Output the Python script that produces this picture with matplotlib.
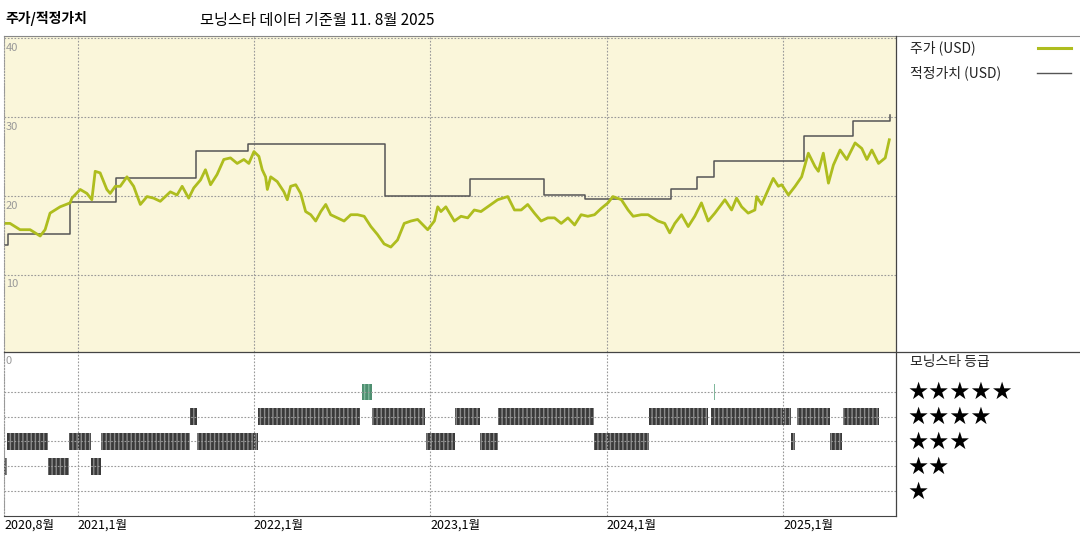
import matplotlib
matplotlib.use("Agg")
import matplotlib.pyplot as plt
from matplotlib.lines import Line2D

plt.rcParams['font.family'] = ['Noto Sans CJK KR', 'DejaVu Sans']

# price (decimal year, USD)
price_t = [2020.58,2020.617,2020.674,2020.731,2020.788,2020.816,2020.844,2020.901,2020.958,2020.968,
           2021.015,2021.053,2021.081,2021.100,2021.128,2021.166,2021.185,2021.214,2021.242,2021.280,
           2021.318,2021.356,2021.394,2021.431,2021.469,2021.526,2021.564,2021.593,2021.630,2021.659,
           2021.697,2021.725,2021.754,2021.791,2021.829,2021.867,2021.905,2021.943,2021.971,2022.000,
           2022.028,2022.047,2022.066,2022.076,2022.095,2022.132,2022.170,2022.189,2022.208,2022.237,
           2022.265,2022.293,2022.322,2022.350,2022.379,2022.407,2022.435,2022.473,2022.511,2022.549,
           2022.587,2022.625,2022.663,2022.700,2022.738,2022.776,2022.814,2022.852,2022.890,2022.928,
           2022.985,2023.023,2023.042,
           2023.060,2023.088,2023.136,2023.174,2023.212,2023.249,2023.287,2023.325,2023.382,2023.439,
           2023.477,2023.515,2023.552,2023.590,2023.628,2023.666,2023.704,2023.742,2023.780,2023.818,
           2023.855,2023.893,2023.931,2023.969,2024.007,2024.035,2024.083,2024.121,2024.150,2024.196,
           2024.234,2024.291,2024.329,2024.357,2024.386,2024.424,2024.462,2024.499,2024.537,2024.575,
           2024.613,2024.670,2024.708,2024.736,2024.765,2024.802,2024.840,2024.850,2024.878,2024.916,
           2024.944,2024.973,2024.992,2025.030,2025.068,2025.105,2025.143,2025.181,2025.200,2025.228,
           2025.257,2025.285,2025.323,2025.361,2025.408,2025.446,2025.475,2025.503,2025.541,2025.579,2025.602]
price_v = [16.5,16.5,15.7,15.7,14.9,15.7,17.8,18.6,19.1,19.7,
           20.8,20.3,19.5,23.1,22.9,20.8,20.3,21.2,21.2,22.4,
           21.2,18.9,19.9,19.7,19.3,20.5,20.1,21.2,19.7,21.0,
           22.0,23.3,21.4,22.7,24.6,24.8,24.1,24.6,24.1,25.6,
           25.0,23.3,22.4,20.8,22.4,21.8,20.5,19.5,21.2,21.4,
           20.3,18.0,17.6,16.8,18.0,18.9,17.6,17.2,16.8,17.6,
           17.6,17.4,16.1,15.1,13.9,13.5,14.4,16.5,16.8,17.0,
           15.7,16.8,18.6,
           18.0,18.6,16.8,17.4,17.2,18.2,18.0,18.6,19.5,19.9,
           18.2,18.2,18.9,17.8,16.8,17.2,17.2,16.5,17.2,16.3,
           17.6,17.4,17.6,18.4,19.1,19.9,19.5,18.2,17.4,17.6,
           17.6,16.8,16.5,15.3,16.5,17.6,16.1,17.4,19.1,16.8,
           17.8,19.5,18.2,19.7,18.6,17.8,18.2,19.9,18.9,20.8,
           22.2,21.2,21.4,20.1,21.2,22.4,25.4,23.7,23.1,25.4,
           21.6,23.9,25.8,24.6,26.7,26.0,24.6,25.8,24.1,24.8,27.1]

# fair value steps (start of each level)
fv_t = [2020.583,2020.606,2020.958,2021.219,2021.674,2021.969,2022.742,2023.225,2023.646,
        2023.878,2024.367,2024.509,2024.611,2025.117,2025.395,2025.606]
fv_v = [13.7,15.2,19.2,22.3,25.7,26.6,20.0,22.1,20.1,19.6,20.8,22.4,24.4,27.6,29.5,30.3]

# star ratings: (start, end) decimal years
rating5 = [(2022.611,2022.668),(2024.606,2024.612)]
rating4 = [(2021.640,2021.680),(2022.021,2022.600),(2022.668,2022.970),(2023.140,2023.282),
           (2023.384,2023.930),(2024.242,2024.577),(2024.594,2025.043),(2025.077,2025.265),
           (2025.339,2025.543)]
rating3 = [(2020.600,2020.833),(2020.952,2021.077),(2021.134,2021.640),(2021.680,2022.021),
           (2022.975,2023.140),(2023.282,2023.384),(2023.930,2024.242),(2025.043,2025.066),
           (2025.265,2025.333)]
rating2 = [(2020.583,2020.600),(2020.833,2020.952),(2021.077,2021.134)]
ratings = {5: rating5, 4: rating4, 3: rating3, 2: rating2}

xticks = [2020.583, 2021.0, 2022.0, 2023.0, 2024.0, 2025.0]
xtick_labels = ['2020,8월','2021,1월','2022,1월','2023,1월','2024,1월','2025,1월']
x0, x1 = 2020.583, 2025.64

fig = plt.figure(figsize=(10.8, 5.4), dpi=100)
L, R = 4/1080, 896/1080
ax = fig.add_axes([L, 1-352/540, R-L, (352-36)/540])
ax2 = fig.add_axes([L, 1-516/540, R-L, (516-352)/540])

grid_kw = dict(color='#999', lw=0.8, ls=(0, (1.5, 1.5)))
ax.set_facecolor('#FAF6DA')
ax.set_xlim(x0, x1); ax.set_ylim(0.2, 40.25)
for y in [10, 20, 30, 40]:
    ax.axhline(y, **grid_kw)
    ax.text(x0 + 0.01, y - 0.6, str(y), color='#999', fontsize=8, va='top', ha='left')
for x in xticks:
    ax.axvline(x, **grid_kw)
ax.step(fv_t, fv_v, where='post', color='#555', lw=1.1)
ax.plot(price_t, price_v, color='#AEBD1E', lw=2.0)
ax.set_xticks([]); ax.set_yticks([])
for s in ['top', 'right', 'bottom']:
    ax.spines[s].set_visible(False)
ax.spines['left'].set_color('#999'); ax.spines['left'].set_linestyle(':')

ax2.set_xlim(x0, x1); ax2.set_ylim(0, 6.6)
for y in [1, 2, 3, 4, 5]:
    ax2.axhline(y, **grid_kw)
for x in xticks:
    ax2.axvline(x, **grid_kw)
ax2.text(x0 + 0.01, 6.45, '0', color='#999', fontsize=8, va='top', ha='left')
for lvl, segs in ratings.items():
    fc = '#4E8F70' if lvl == 5 else '#3a3a3a'
    ax2.broken_barh([(a, b - a) for a, b in segs], (lvl - 0.33, 0.66),
                    facecolor=fc, edgecolor='#8a8a8a' if lvl != 5 else '#7fb89c',
                    hatch='||||', lw=0)
ax2.set_yticks([])
ax2.set_xticks(xticks)
ax2.set_xticklabels(xtick_labels, fontsize=9, ha='left')
ax2.tick_params(axis='x', length=0, pad=2)
for s in ['top', 'right']:
    ax2.spines[s].set_visible(False)
ax2.spines['left'].set_color('#999'); ax2.spines['left'].set_linestyle(':')
ax2.spines['bottom'].set_color('#444')

# frame lines
fig.add_artist(Line2D([L, 1], [1-36/540]*2, color='#888', lw=0.8))
fig.add_artist(Line2D([L, 1], [1-352/540]*2, color='#444', lw=0.9))
fig.add_artist(Line2D([R, R], [1-516/540, 1-36/540], color='#444', lw=0.9))

fig.text(5/1080, 1-18/540, '주가/적정가치', fontsize=10, fontweight='bold', va='center')
fig.text(200/1080, 1-20/540, '모닝스타 데이터 기준월 11. 8월 2025', fontsize=11, va='center')
fig.text(910/1080, 1-48/540, '주가 (USD)', fontsize=10, va='center', color='#222')
fig.add_artist(Line2D([1038/1080, 1071/1080], [1-48/540]*2, color='#AEBD1E', lw=2.2))
fig.text(910/1080, 1-73/540, '적정가치 (USD)', fontsize=10, va='center', color='#222')
fig.add_artist(Line2D([1037/1080, 1071/1080], [1-73/540]*2, color='#555', lw=1))
fig.text(910/1080, 1-362/540, '모닝스타 등급', fontsize=10, va='center', color='#222')
for i, n in enumerate([5, 4, 3, 2, 1]):
    fig.text(907/1080, 1-(392+25*i)/540, '★'*n, fontsize=17, va='center',
             family=['DejaVu Sans'])

fig.savefig('out.png', dpi=100)
